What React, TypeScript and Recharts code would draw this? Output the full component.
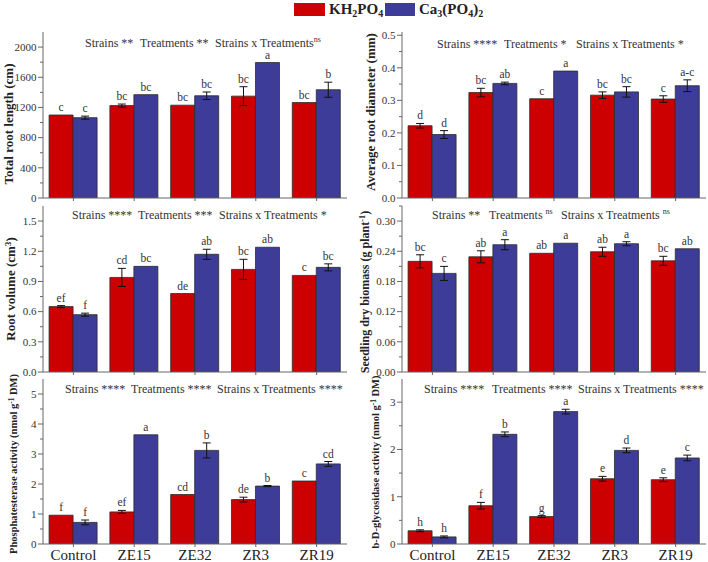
import React from 'react';
import { BarChart, Bar, XAxis, YAxis, ErrorBar, LabelList } from 'recharts';

// ---------------- DATA ----------------
const categories = ['Control', 'ZE15', 'ZE32', 'ZR3', 'ZR19'];

// Total root length (cm)
const lengthKH = [1100, 1225, 1230, 1350, 1265];
const lengthCa = [1065, 1370, 1355, 1795, 1435];
const lengthKHErr = [0, 20, 0, 125, 0];
const lengthCaErr = [20, 0, 50, 0, 100];
const lengthKHLetters = ['c', 'bc', 'bc', 'bc', 'bc'];
const lengthCaLetters = ['c', 'bc', 'bc', 'a', 'b'];
const lengthTicks = [0, 400, 800, 1200, 1600, 2000];

// Average root diameter (mm)
const diamKH = [0.222, 0.324, 0.305, 0.316, 0.304];
const diamCa = [0.195, 0.352, 0.39, 0.326, 0.345];
const diamKHErr = [0.007, 0.013, 0, 0.01, 0.01];
const diamCaErr = [0.012, 0.004, 0, 0.016, 0.018];
const diamKHLetters = ['d', 'bc', 'c', 'bc', 'c'];
const diamCaLetters = ['d', 'ab', 'a', 'bc', 'a-c'];
const diamTicks = [0, 0.1, 0.2, 0.3, 0.4, 0.5];

// Root volume (cm3)
const volKH = [0.65, 0.94, 0.78, 1.02, 0.96];
const volCa = [0.57, 1.05, 1.17, 1.24, 1.04];
const volKHErr = [0.01, 0.09, 0, 0.1, 0];
const volCaErr = [0.015, 0, 0.05, 0, 0.035];
const volKHLetters = ['ef', 'cd', 'de', 'bc', 'c'];
const volCaLetters = ['f', 'bc', 'ab', 'ab', 'bc'];
const volTicks = [0, 0.3, 0.6, 0.9, 1.2, 1.5];

// Seedling dry biomass (g plant-1)
const bioKH = [0.22, 0.229, 0.236, 0.239, 0.221];
const bioCa = [0.196, 0.253, 0.256, 0.255, 0.245];
const bioKHErr = [0.013, 0.012, 0, 0.009, 0.009];
const bioCaErr = [0.014, 0.01, 0, 0.004, 0];
const bioKHLetters = ['bc', 'ab', 'ab', 'ab', 'bc'];
const bioCaLetters = ['c', 'a', 'a', 'a', 'ab'];
const bioTicks = [0, 0.06, 0.12, 0.18, 0.24, 0.3];

// Phosphatesterase activity
const phosKH = [0.96, 1.07, 1.65, 1.48, 2.1];
const phosCa = [0.72, 3.64, 3.12, 1.93, 2.67];
const phosKHErr = [0, 0.05, 0, 0.08, 0];
const phosCaErr = [0.08, 0, 0.25, 0.02, 0.08];
const phosKHLetters = ['f', 'ef', 'cd', 'de', 'c'];
const phosCaLetters = ['f', 'a', 'b', 'b', 'cd'];
const phosTicks = [0, 1, 2, 3, 4, 5];

// b-D-glycosidase activity
const glyKH = [0.28, 0.81, 0.58, 1.38, 1.36];
const glyCa = [0.15, 2.32, 2.8, 1.98, 1.82];
const glyKHErr = [0.02, 0.07, 0.02, 0.05, 0.04];
const glyCaErr = [0.02, 0.05, 0.05, 0.05, 0.06];
const glyKHLetters = ['h', 'f', 'g', 'e', 'e'];
const glyCaLetters = ['h', 'b', 'a', 'd', 'c'];
const glyTicks = [0, 1, 2, 3];

// ---------------- STYLE ----------------
const RED = '#cc0000';
const BLUE = '#3d3d99';
const AX = '#666666';
const SERIF = '"Liberation Serif", "Times New Roman", serif';

const ROW_TOP = [32, 206, 379];
const ROW_H = [166, 166, 165];

type Sig = [string, string];
type PanelDef = {
  col: number;
  row: number;
  kh: number[];
  ca: number[];
  khErr: number[];
  caErr: number[];
  khL: string[];
  caL: string[];
  ticks: number[];
  max: number;
  decimals: number;
  label: React.ReactNode;
  labelSize: number;
  labelX: number;
  labelY: number;
  titles: Sig[];
  titleX: number[];
  titleY: number;
};

const sup = (t: string) => (
  <span style={{ fontSize: '0.7em', position: 'relative', top: '-0.45em' }}>{t}</span>
);

const panels: PanelDef[] = [
  {
    col: 0, row: 0, kh: lengthKH, ca: lengthCa, khErr: lengthKHErr, caErr: lengthCaErr,
    khL: lengthKHLetters, caL: lengthCaLetters, ticks: lengthTicks, max: 2200, decimals: 0,
    label: 'Total root length (cm)', labelSize: 13, labelX: 8, labelY: 124,
    titles: [['Strains', ' **'], ['Treatments', ' **'], ['Strains x Treatments', 'ns']],
    titleX: [85, 140, 215], titleY: 43,
  },
  {
    col: 1, row: 0, kh: diamKH, ca: diamCa, khErr: diamKHErr, caErr: diamCaErr,
    khL: diamKHLetters, caL: diamCaLetters, ticks: diamTicks, max: 0.51, decimals: 1,
    label: 'Average root diameter (mm)', labelSize: 13, labelX: 370, labelY: 112,
    titles: [['Strains', ' ****'], ['Treatments', ' *'], ['Strains x Treatments', ' *']],
    titleX: [437, 504, 576], titleY: 44,
  },
  {
    col: 0, row: 1, kh: volKH, ca: volCa, khErr: volKHErr, caErr: volCaErr,
    khL: volKHLetters, caL: volCaLetters, ticks: volTicks, max: 1.65, decimals: 1,
    label: <>Root volume (cm{sup('3')})</>, labelSize: 13, labelX: 11, labelY: 289,
    titles: [['Strains', ' ****'], ['Treatments', ' ***'], ['Strains x Treatments', ' *']],
    titleX: [72, 138, 219], titleY: 215,
  },
  {
    col: 1, row: 1, kh: bioKH, ca: bioCa, khErr: bioKHErr, caErr: bioCaErr,
    khL: bioKHLetters, caL: bioCaLetters, ticks: bioTicks, max: 0.33, decimals: 2,
    label: <>Seedling dry biomass (g plant{sup('-1')})</>, labelSize: 12, labelX: 365, labelY: 292,
    titles: [['Strains', ' **'], ['Treatments', ' ns'], ['Strains x Treatments', ' ns']],
    titleX: [432, 489, 561], titleY: 215,
  },
  {
    col: 0, row: 2, kh: phosKH, ca: phosCa, khErr: phosKHErr, caErr: phosCaErr,
    khL: phosKHLetters, caL: phosCaLetters, ticks: phosTicks, max: 5.5, decimals: 0,
    label: <>Phosphatesterase activity (nmol g{sup('-1')} DM)</>, labelSize: 10.5, labelX: 14, labelY: 464,
    titles: [['Strains', ' ****'], ['Treatments', ' ****'], ['Strains x Treatments', ' ****']],
    titleX: [65, 131, 217], titleY: 389,
  },
  {
    col: 1, row: 2, kh: glyKH, ca: glyCa, khErr: glyKHErr, caErr: glyCaErr,
    khL: glyKHLetters, caL: glyCaLetters, ticks: glyTicks, max: 3.49, decimals: 0,
    label: <>b-D-glycosidase activity (nmol g{sup('-1')} DM)</>, labelSize: 10.5, labelX: 376, labelY: 462,
    titles: [['Strains', ' ****'], ['Treatments', ' ****'], ['Strains x Treatments', ' ****']],
    titleX: [424, 492, 578], titleY: 389,
  },
];

// ---------------- TICKS ----------------
const YTick = (props: any) => {
  const { x, y, payload, step, decimals } = props;
  const v = payload.value as number;
  const major = Math.abs(v / step - Math.round(v / step)) < 1e-6;
  return (
    <g>
      <line x1={x - (major ? 5 : 3)} x2={x} y1={y} y2={y} stroke={AX} strokeWidth={1} />
      {major && (
        <text x={x - 6.5} y={y} dy={3.8} textAnchor="end" fontSize={11} fontFamily={SERIF} fill="#333">
          {v.toFixed(decimals)}
        </text>
      )}
    </g>
  );
};

const XTick = (props: any) => {
  const { x, y, payload, bottom } = props;
  return (
    <g>
      <line x1={x} x2={x} y1={y} y2={y + 3} stroke={AX} strokeWidth={1} />
      {bottom && (
        <text x={x} y={y + 16} textAnchor="middle" fontSize={15} fontFamily={SERIF} fill="#222">
          {payload.value}
        </text>
      )}
    </g>
  );
};

const letterRenderer = (values: number[], errs: number[], letters: string[]) => (p: any) => {
  const { x, y, width, height, index } = p;
  const i = typeof index === 'number' ? index : 0;
  const v = values[i];
  const pxPer = v ? height / v : 0;
  const top = y - errs[i] * pxPer;
  return (
    <text x={x + width / 2} y={top - 4} textAnchor="middle" fontSize={11.5} fontFamily={SERIF} fill="#333">
      {letters[i]}
    </text>
  );
};

function Panel({ def }: { def: PanelDef }) {
  const data = categories.map((c, i) => ({
    name: c,
    kh: def.kh[i],
    ca: def.ca[i],
    khErr: def.khErr[i],
    caErr: def.caErr[i],
    khL: def.khL[i],
    caL: def.caL[i],
  }));
  const bottom = def.row === 2;
  const plotTop = ROW_TOP[def.row];
  const plotH = ROW_H[def.row];
  const mTop = 4;
  const xH = bottom ? 24 : 6;
  const chartH = mTop + plotH + xH;
  const left = def.col === 0 ? 0 : 359;
  const width = def.col === 0 ? 354 : 349;
  const mRight = def.col === 0 ? 7 : 2;
  const step = def.ticks[1] - def.ticks[0];
  const allTicks: number[] = [];
  def.ticks.forEach((t) => {
    allTicks.push(t);
    const mid = t + step / 2;
    if (mid < def.max) allTicks.push(parseFloat(mid.toFixed(6)));
  });
  return (
    <div style={{ position: 'absolute', left, top: plotTop - mTop }}>
      <BarChart
        width={width}
        height={chartH}
        data={data}
        margin={{ top: mTop, right: mRight, bottom: 0, left: 0 }}
        barCategoryGap="10%"
        barGap={0}
      >
        <XAxis
          dataKey="name"
          height={xH}
          tickSize={0}
          tickMargin={0}
          tickLine={false}
          interval={0}
          axisLine={{ stroke: AX }}
          tick={<XTick bottom={bottom} />}
        />
        <XAxis
          xAxisId="top"
          dataKey="name"
          orientation="top"
          height={0}
          tick={false}
          tickLine={false}
          axisLine={{ stroke: AX }}
        />
        <YAxis
          type="number"
          domain={[0, def.max]}
          ticks={allTicks}
          interval={0}
          width={43}
          tickSize={0}
          tickMargin={0}
          tickLine={false}
          allowDataOverflow
          axisLine={{ stroke: AX }}
          tick={<YTick step={step} decimals={def.decimals} />}
        />
        <YAxis
          yAxisId="right"
          orientation="right"
          type="number"
          domain={[0, def.max]}
          width={0}
          tick={false}
          tickLine={false}
          axisLine={{ stroke: AX }}
        />
        <Bar dataKey="kh" fill={RED} stroke="#2b2b2b" strokeWidth={0.8} isAnimationActive={false}>
          <ErrorBar dataKey="khErr" width={4} stroke="#111" strokeWidth={1} />
          <LabelList dataKey="khL" content={letterRenderer(def.kh, def.khErr, def.khL)} />
        </Bar>
        <Bar dataKey="ca" fill={BLUE} stroke="#2b2b2b" strokeWidth={0.8} isAnimationActive={false}>
          <ErrorBar dataKey="caErr" width={4} stroke="#111" strokeWidth={1} />
          <LabelList dataKey="caL" content={letterRenderer(def.ca, def.caErr, def.caL)} />
        </Bar>
      </BarChart>
    </div>
  );
}

function Overlay({ def }: { def: PanelDef }) {
  return (
    <>
      <div
        style={{
          position: 'absolute',
          left: def.labelX,
          top: def.labelY,
          transform: 'translate(-50%, -50%) rotate(-90deg)',
          whiteSpace: 'nowrap',
          fontFamily: SERIF,
          fontWeight: 'bold',
          fontSize: def.labelSize,
          color: '#222',
          lineHeight: 1,
        }}
      >
        {def.label}
      </div>
      {def.titles.map((t, i) => (
        <div
          key={i}
          style={{
            position: 'absolute',
            left: def.titleX[i],
            top: def.titleY - 6,
            whiteSpace: 'nowrap',
            fontFamily: SERIF,
            fontSize: 12,
            color: '#333',
            lineHeight: '12px',
          }}
        >
          {t[0]}
          {t[1].trim() === 'ns' ? (
            <>
              {t[1].startsWith(' ') ? ' ' : ''}
              <span style={{ fontSize: 8, position: 'relative', top: -5 }}>ns</span>
            </>
          ) : (
            t[1]
          )}
        </div>
      ))}
    </>
  );
}

function Legend() {
  const txt: React.CSSProperties = {
    position: 'absolute',
    top: 0,
    fontFamily: SERIF,
    fontWeight: 'bold',
    fontSize: 15,
    color: '#222',
    lineHeight: '18px',
    whiteSpace: 'nowrap',
  };
  const sub = (t: string) => (
    <span style={{ fontSize: 10, position: 'relative', top: 3 }}>{t}</span>
  );
  return (
    <>
      <div style={{ position: 'absolute', left: 294, top: 3, width: 31, height: 13, background: RED }} />
      <div style={{ ...txt, left: 329 }}>
        KH{sub('2')}PO{sub('4')}
      </div>
      <div style={{ position: 'absolute', left: 385, top: 3, width: 30, height: 13, background: BLUE }} />
      <div style={{ ...txt, left: 419 }}>
        Ca{sub('3')}(PO{sub('4')}){sub('2')}
      </div>
    </>
  );
}

export default function App() {
  return (
    <div
      style={{
        position: 'absolute',
        left: 0,
        top: 0,
        width: 708,
        height: 562,
        overflow: 'hidden',
        background: '#fff',
      }}
    >
      <Legend />
      {panels.map((p, i) => (
        <Panel key={i} def={p} />
      ))}
      {panels.map((p, i) => (
        <Overlay key={'o' + i} def={p} />
      ))}
    </div>
  );
}
